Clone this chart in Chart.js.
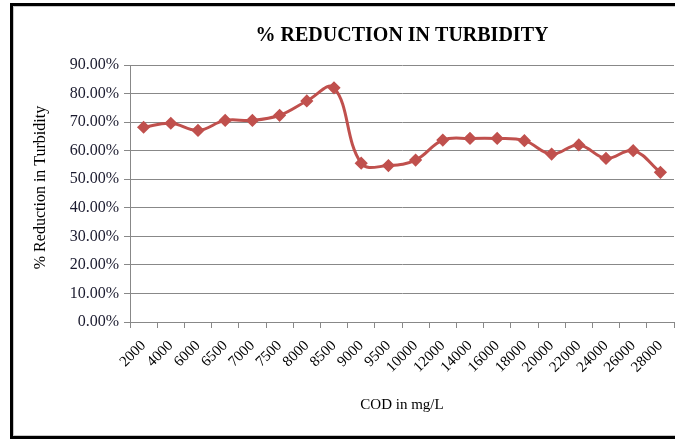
<!DOCTYPE html>
<html>
<head>
<meta charset="utf-8">
<script src="https://cdn.jsdelivr.net/npm/chart.js@4.4.0/dist/chart.umd.min.js"></script>
<style>
  html, body { margin: 0; padding: 0; background: #fff; overflow: hidden; }
  #wrap { position: relative; width: 675px; height: 439px; overflow: hidden; }
  #frame {
    position: absolute; left: 10px; top: 3px; width: 700px; height: 430px;
    border: 3px solid #000; box-shadow: inset 0 0 0 1px #c8c8c8;
    pointer-events: none;
  }
  canvas { position: absolute; left: 0; top: 0; }
</style>
</head>
<body>
<div id="wrap">
  <canvas id="chart" width="675" height="439"></canvas>
  <div id="frame"></div>
</div>
<script>
// COD values (mg/L) on the x axis
const codLabels = ["2000", "4000", "6000", "6500", "7000", "7500", "8000", "8500", "9000", "9500",
  "10000", "12000", "14000", "16000", "18000", "20000", "22000", "24000", "26000", "28000"];

// % reduction in turbidity
const reduction = [68.2, 69.6, 67.1, 70.6, 70.6, 72.4, 77.4, 82.0, 55.6, 54.8,
  56.7, 63.7, 64.3, 64.3, 63.5, 58.8, 62.0, 57.3, 60.0, 52.4];

const yTicks = [0, 10, 20, 30, 40, 50, 60, 70, 80, 90];

const serif = "'Liberation Serif', 'Times New Roman', serif";
const red = "#C0504D";

const ctx = document.getElementById("chart").getContext("2d");
new Chart(ctx, {
  type: "line",
  data: {
    labels: codLabels,
    datasets: [{
      label: "% Reduction in Turbidity",
      data: reduction,
      borderColor: red,
      backgroundColor: red,
      borderWidth: 3,
      tension: 0.4,
      pointStyle: "rectRot",
      pointRadius: 4.5,
      pointBackgroundColor: red,
      pointBorderColor: red,
      fill: false
    }]
  },
  options: {
    responsive: false,
    animation: false,
    devicePixelRatio: 1,
    layout: { autoPadding: false, padding: { top: 0, right: 1, bottom: 0, left: 0 } },
    plugins: {
      legend: { display: false },
      tooltip: { enabled: false },
      title: {
        display: true,
        fullSize: false,
        text: "% REDUCTION IN TURBIDITY",
        color: "#000",
        font: { family: serif, size: 20, weight: "bold" },
        padding: { top: 24, bottom: 17 }
      }
    },
    scales: {
      x: {
        offset: true,
        grid: {
          offset: true,
          drawOnChartArea: false,
          drawTicks: true,
          tickLength: 6,
          color: "#888"
        },
        border: { color: "#888" },
        ticks: {
          color: "#000",
          font: { family: serif, size: 15 },
          minRotation: 45,
          maxRotation: 45,
          autoSkip: false,
          padding: 9
        },
        title: {
          display: true,
          text: "COD in mg/L",
          color: "#000",
          font: { family: serif, size: 15 },
          padding: { top: 0, bottom: 25 }
        },
        afterFit: function (scale) {
          scale.height = 117;
          scale.paddingLeft = 0;
          scale.paddingRight = 0;
        }
      },
      y: {
        min: 0,
        max: 90,
        afterBuildTicks: function (scale) {
          scale.ticks = yTicks.map(v => ({ value: v }));
        },
        grid: {
          color: "#888",
          tickLength: 6
        },
        border: { color: "#888" },
        ticks: {
          color: "#1a1a2e",
          font: { family: serif, size: 16 },
          padding: 5,
          callback: v => v.toFixed(2) + "%"
        },
        title: {
          display: true,
          text: "   % Reduction in Turbidity",
          color: "#000",
          font: { family: serif, size: 16 },
          padding: { top: 31, bottom: 0 }
        },
        afterFit: function (scale) { scale.width = 130; }
      }
    }
  }
});
</script>
</body>
</html>
